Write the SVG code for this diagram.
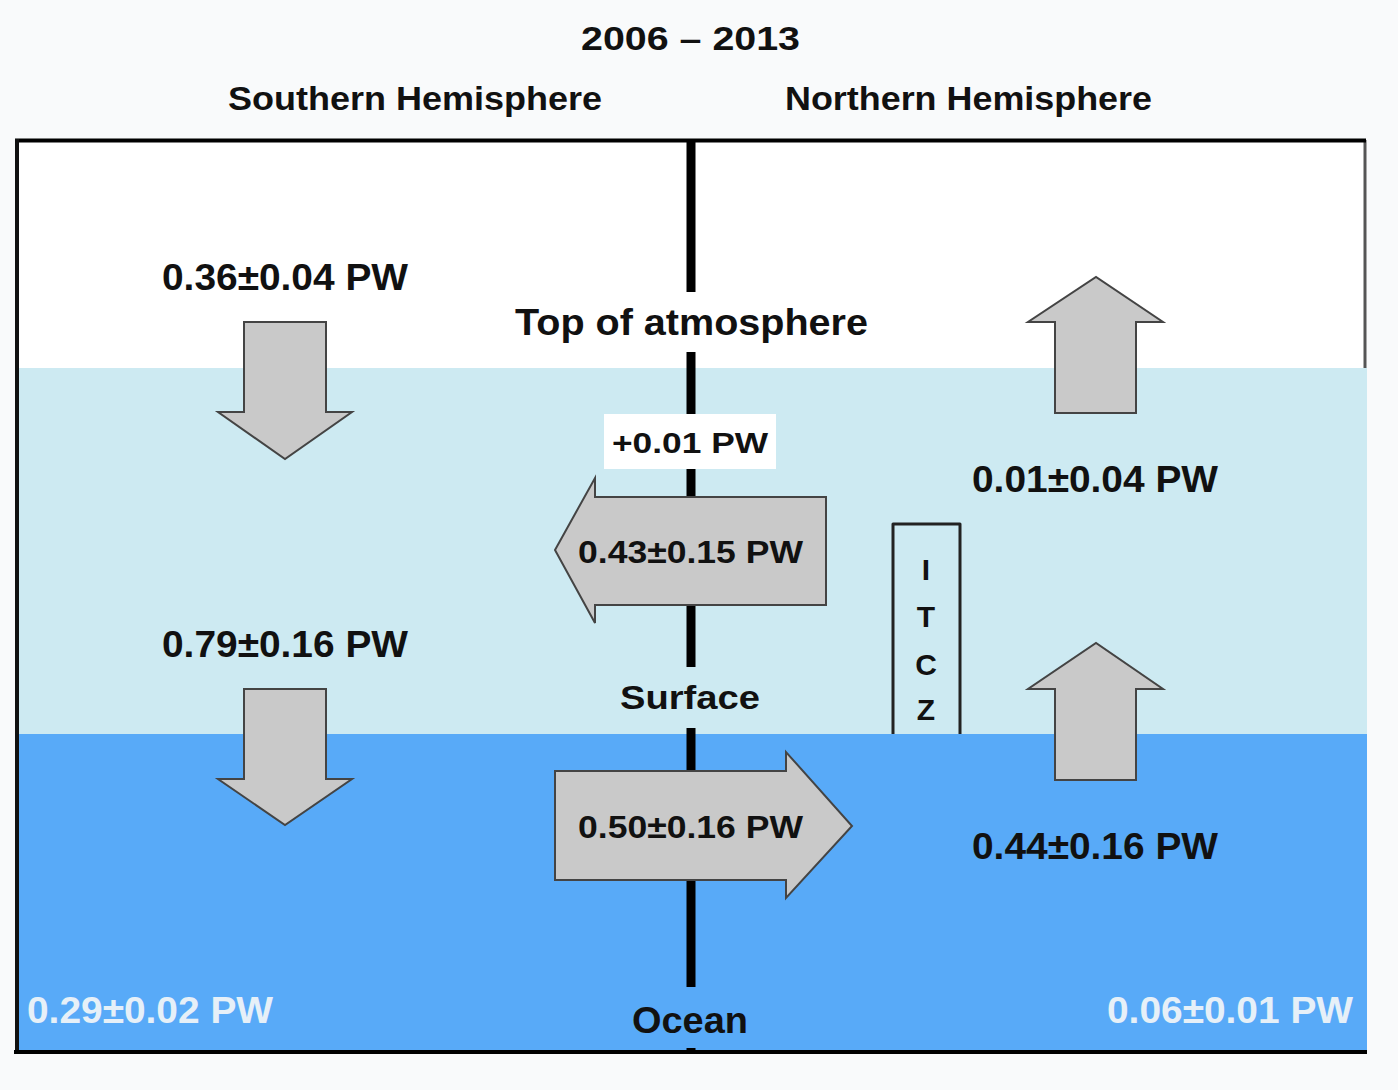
<svg xmlns="http://www.w3.org/2000/svg" width="1398" height="1090" viewBox="0 0 1398 1090">
<style>
text{font-family:"Liberation Sans",Arial,sans-serif;font-weight:bold;fill:#111;text-anchor:middle}
.big{font-size:37px}
.mid{font-size:32px}
.lite{fill:#e6f0f8}
.arrow{fill:#c9c9c9;stroke:#444;stroke-width:2;stroke-linejoin:miter}
.axis{stroke:#000;stroke-width:9}
</style>
<rect x="0" y="0" width="1398" height="1090" fill="#f9fafb"/>
<g id="frame">
<rect x="17" y="140" width="1348" height="228" fill="#ffffff"/>
<line x1="1365" y1="140" x2="1365" y2="370" stroke="#555" stroke-width="3"/>
<rect x="18" y="368" width="1349" height="366" fill="#cdeaf2"/>
<rect x="16" y="734" width="1351" height="318" fill="#58aaf8"/>
<line x1="15" y1="140.5" x2="1366" y2="140.5" stroke="#000" stroke-width="4"/>
<line x1="17" y1="139" x2="17" y2="1054" stroke="#111" stroke-width="4"/>
<line x1="14" y1="1052" x2="1367" y2="1052" stroke="#000" stroke-width="4"/>
</g>
<g id="titles">
<text class="mid" x="690.5" y="50" style="font-size:33px" textLength="219" lengthAdjust="spacingAndGlyphs">2006 – 2013</text>
<text class="mid" x="415" y="110" style="font-size:33px" textLength="374" lengthAdjust="spacingAndGlyphs">Southern Hemisphere</text>
<text class="mid" x="968.5" y="110" style="font-size:33px" textLength="367" lengthAdjust="spacingAndGlyphs">Northern Hemisphere</text>
</g>
<g id="connectors">
<line class="axis" x1="691" y1="140" x2="691" y2="292"/>
<line class="axis" x1="691" y1="352" x2="691" y2="667"/>
<line class="axis" x1="691" y1="728" x2="691" y2="987"/>
<line class="axis" x1="691" y1="1048" x2="691" y2="1052"/>
</g>
<g id="level-labels">
<text x="691.5" y="335" style="font-size:36px" textLength="353" lengthAdjust="spacingAndGlyphs">Top of atmosphere</text>
<text x="690" y="709" style="font-size:34px" textLength="140" lengthAdjust="spacingAndGlyphs">Surface</text>
<text x="690" y="1033" style="font-size:36px" textLength="116" lengthAdjust="spacingAndGlyphs">Ocean</text>
</g>
<g id="toa-net">
<rect x="604" y="414" width="172" height="55" fill="#ffffff"/>
<text x="690" y="453" style="font-size:30px" textLength="156" lengthAdjust="spacingAndGlyphs">+0.01 PW</text>
</g>
<g id="sh-toa">
<text class="big" x="285" y="290" textLength="246" lengthAdjust="spacingAndGlyphs">0.36±0.04 PW</text>
<path class="arrow" d="M244,322 H326 V412 H352 L285,459 L218,412 H244 Z"/>
</g>
<g id="sh-surface">
<text class="big" x="285" y="657" textLength="246" lengthAdjust="spacingAndGlyphs">0.79±0.16 PW</text>
<path class="arrow" d="M244,689 H326 V779 H352 L285,825 L218,779 H244 Z"/>
</g>
<g id="nh-toa">
<path class="arrow" d="M1055,413 V322 H1028 L1096,277 L1163,322 H1136 V413 Z"/>
<text class="big" x="1095" y="492" textLength="246" lengthAdjust="spacingAndGlyphs">0.01±0.04 PW</text>
</g>
<g id="nh-surface">
<path class="arrow" d="M1055,780 V689 H1028 L1096,643 L1163,689 H1136 V780 Z"/>
<text class="big" x="1095" y="859" textLength="246" lengthAdjust="spacingAndGlyphs">0.44±0.16 PW</text>
</g>
<g id="atmos-transport">
<path class="arrow" d="M826,497 V605 H595 V623 L555,550 L595,478 V497 Z"/>
<text class="mid" x="690.5" y="563" textLength="225" lengthAdjust="spacingAndGlyphs">0.43±0.15 PW</text>
</g>
<g id="ocean-transport">
<path class="arrow" d="M555,771 H786 V752 L852,826 L786,898 V880 H555 Z"/>
<text class="mid" x="690.5" y="838" textLength="225" lengthAdjust="spacingAndGlyphs">0.50±0.16 PW</text>
</g>
<g id="itcz">
<path d="M893,734 V524 H960 V734" fill="none" stroke="#222" stroke-width="3" stroke-linejoin="round"/>
<text x="926" y="580" style="font-size:30px">I</text>
<text x="926" y="627" style="font-size:30px">T</text>
<text x="926" y="675" style="font-size:30px">C</text>
<text x="926" y="720" style="font-size:30px">Z</text>
</g>
<g id="sh-ocean">
<text class="big lite" x="150" y="1023" textLength="246" lengthAdjust="spacingAndGlyphs">0.29±0.02 PW</text>
</g>
<g id="nh-ocean">
<text class="big lite" x="1230" y="1023" textLength="246" lengthAdjust="spacingAndGlyphs">0.06±0.01 PW</text>
</g>
</svg>
